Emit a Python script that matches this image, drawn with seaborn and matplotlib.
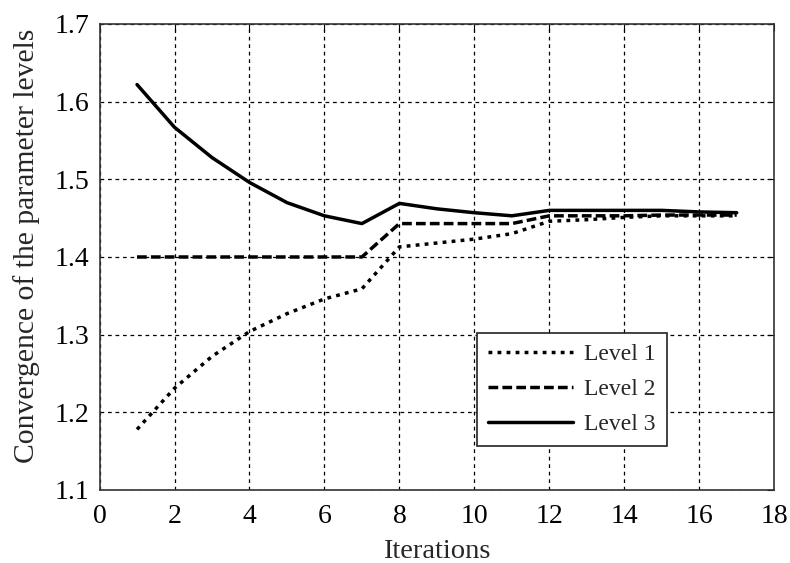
import numpy as np
import pandas as pd
import matplotlib
matplotlib.use("Agg")
import matplotlib.pyplot as plt
import seaborn as sns

# 数据
iterations = [1, 2, 3, 4, 5, 6, 7, 8, 9, 10, 11, 12, 13, 14, 15, 16, 17]
level1 = [1.178, 1.231, 1.272, 1.304, 1.327, 1.346, 1.359, 1.413, 1.418, 1.423,
          1.430, 1.446, 1.448, 1.451, 1.453, 1.453, 1.453]
level2 = [1.400, 1.400, 1.400, 1.400, 1.400, 1.400, 1.400, 1.443, 1.443, 1.443,
          1.443, 1.453, 1.453, 1.453, 1.454, 1.454, 1.454]
level3 = [1.622, 1.567, 1.528, 1.496, 1.470, 1.453, 1.443, 1.469, 1.462, 1.457,
          1.453, 1.460, 1.460, 1.460, 1.460, 1.458, 1.457]
series_names = ['Level 1', 'Level 2', 'Level 3']
x_ticks = [0, 2, 4, 6, 8, 10, 12, 14, 16, 18]
y_ticks = [1.1, 1.2, 1.3, 1.4, 1.5, 1.6, 1.7]

sns.set_style("white")
plt.rcParams['font.family'] = ['Liberation Serif', 'DejaVu Serif']

fig = plt.figure(figsize=(7.9, 5.63), dpi=100)
ax = fig.add_axes([0.126, 0.1297, 0.854, 0.8277])

styles = [(0, (1.1, 1.5)), (0, (2.8, 1.2)), '-']
for vals, name, ls in zip([level1, level2, level3], series_names, styles):
    df = pd.DataFrame({'Iterations': iterations, 'value': vals})
    sns.lineplot(data=df, x='Iterations', y='value', ax=ax, color='black',
                 linewidth=2.5, linestyle=ls, label=name)

ax.set_xlim(0, 18)
ax.set_ylim(1.1, 1.7)
ax.set_xticks(x_ticks)
ax.set_yticks(y_ticks)
ax.set_yticklabels([f'{v:.1f}' for v in y_ticks])
ax.grid(True, color='black', linestyle=(0, (3, 3)), linewidth=0.9)
ax.tick_params(direction='in', length=5, width=0.8, labelsize=20,
               top=True, right=True, colors='black')
ax.tick_params(axis='x', pad=10)
ax.tick_params(axis='y', pad=7.5)
for s in ax.spines.values():
    s.set_color('#333333')
    s.set_linewidth(1.2)

ax.set_xlabel('Iterations', fontsize=20.5, labelpad=7)
ax.set_ylabel('Convergence of the parameter levels', fontsize=21.3)
ax.yaxis.set_label_coords(-0.088, 0.524)

leg = ax.legend(loc='upper left', bbox_to_anchor=(0.560, 0.3376), borderaxespad=0,
                fontsize=17, frameon=True, fancybox=False, framealpha=1,
                edgecolor='#222222', handlelength=3.6, handletextpad=0.45,
                borderpad=0.47, labelspacing=0.57)
leg.get_frame().set_linewidth(1.2)

plt.savefig('out.png', dpi=100)
